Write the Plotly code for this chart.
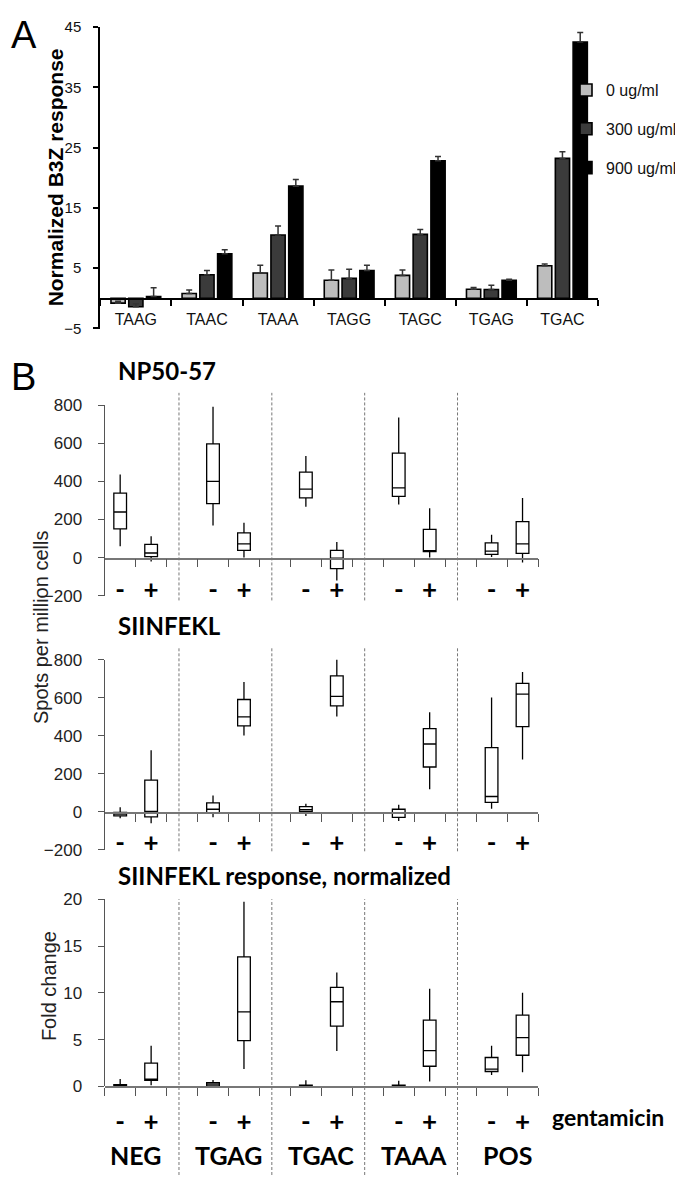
import plotly.graph_objects as go

# ---------------- Panel A data ----------------
codons = ["TAAG", "TAAC", "TAAA", "TAGG", "TAGC", "TGAG", "TGAC"]
dose_labels = ["0 ug/ml", "300 ug/ml", "900 ug/ml"]
resp_0 = [-0.8, 0.8, 4.2, 3.0, 3.8, 1.5, 5.4]
resp_300 = [-1.4, 3.9, 10.5, 3.3, 10.6, 1.45, 23.2]
resp_900 = [0.3, 7.4, 18.6, 4.6, 22.8, 3.0, 42.5]
err_0 = [0.3, 0.6, 1.3, 1.7, 0.9, 0.3, 0.3]
err_300 = [0.5, 0.7, 1.5, 1.5, 0.8, 0.7, 1.1]
err_900 = [1.45, 0.65, 1.1, 0.9, 0.7, 0.15, 1.6]
dose_colors = ["#bdbdbd", "#3b3b3b", "#000000"]
a_yticks = [-5, 5, 15, 25, 35, 45]

# ---------------- Panel B data ----------------
groups = ["NEG", "TGAG", "TGAC", "TAAA", "POS"]
treat = ["-", "+"]
b_titles = ["NP50-57", "SIINFEKL", "SIINFEKL response, normalized"]

# NP50-57 (spots per million cells), order: NEG-, NEG+, TGAG-, TGAG+, ...
np_q1 = [151, 5, 283, 38, 313, -58, 321, 31, 17, 22]
np_med = [239, 24, 400, 72, 359, -3, 366, 34, 34, 72]
np_q3 = [338, 69, 596, 129, 448, 38, 548, 148, 77, 189]
np_lo = [60, -21, 168, 0, 266, -120, 278, 0, 3, -26]
np_hi = [435, 112, 791, 182, 533, 81, 734, 258, 120, 313]

# SIINFEKL (spots per million cells)
si_q1 = [-21, -26, -7, 452, 3, 557, -29, 236, 50, 448]
si_med = [-12, 3, 14, 500, 12, 607, -7, 357, 81, 619]
si_q3 = [-3, 167, 48, 591, 28, 715, 14, 438, 338, 676]
si_lo = [-34, -59, -28, 402, -21, 502, -48, 119, 17, 276]
si_hi = [24, 324, 86, 683, 43, 831, 38, 524, 602, 736]

# SIINFEKL response, normalized (fold change)
fc_q1 = [0.05, 0.66, 0.07, 4.91, 0.05, 6.45, 0.05, 2.16, 1.6, 3.34]
fc_med = [0.1, 0.77, 0.24, 7.98, 0.1, 9.06, 0.1, 3.83, 1.85, 5.23]
fc_q3 = [0.2, 2.5, 0.42, 13.87, 0.15, 10.6, 0.15, 7.1, 3.1, 7.63]
fc_lo = [0.0, 0.14, 0.0, 1.88, 0.0, 3.8, 0.0, 0.52, 1.22, 1.53]
fc_hi = [0.8, 4.36, 0.7, 19.76, 0.66, 12.2, 0.6, 10.45, 4.36, 10.03]

W, H = 683, 1177
ARIAL = "Liberation Sans, Arial, sans-serif"
CAL = "Lato, Carlito, Calibri, sans-serif"


def px(p):
    return p / W


def py(p):
    return 1 - p / H


def ydom(top_px, bot_px):
    return [py(bot_px), py(top_px)]


def zero_dom(dom, rng):
    z = dom[0] + (0 - rng[0]) / (rng[1] - rng[0]) * (dom[1] - dom[0])
    return [z, dom[1]]


xA = [px(92.3), px(590)]
xB = [px(96.7), px(530)]
yA = ydom(10, 316.7)
yB1 = ydom(394.3, 588.3)
yB2 = ydom(653.2, 846.7)
yB3 = ydom(896.5, 1087)
rA = [-5.02, 45.02]
rB = [-200.5, 800.5]
rF = [0, 20.05]

fig = go.Figure()

# ---- Panel A bars ----
for name, vals, errs, col in zip(dose_labels, [resp_0, resp_300, resp_900],
                                 [err_0, err_300, err_900], dose_colors):
    fig.add_trace(go.Bar(
        x=list(range(len(codons))), y=vals, name=name, legendgroup=name,
        marker=dict(color=col, line=dict(color="black", width=1.6)),
        error_y=dict(type="data", symmetric=False, array=errs,
                     arrayminus=[0] * len(errs), color="#333333",
                     thickness=1.5, width=3),
        xaxis="x", yaxis="y"))

# ---- Panel B boxes ----
pos = [3 * g + t for g in range(len(groups)) for t in range(len(treat))]
labels = [treat[t] for g in range(len(groups)) for t in range(len(treat))]
for (q1, md, q3, lo, hi), ax in zip(
        [(np_q1, np_med, np_q3, np_lo, np_hi),
         (si_q1, si_med, si_q3, si_lo, si_hi),
         (fc_q1, fc_med, fc_q3, fc_lo, fc_hi)], ["2", "3", "4"]):
    fig.add_trace(go.Box(
        x=pos, q1=q1, median=md, q3=q3, lowerfence=lo, upperfence=hi,
        width=0.41, whiskerwidth=0, boxpoints=False,
        line=dict(color="black", width=1.3), fillcolor="rgba(255,255,255,0)",
        showlegend=False, hoverinfo="skip",
        xaxis="x" + ax, yaxis="y" + ax))

# dummy traces to create the zero-line subplots
for k in ["5", "6", "7", "8"]:
    fig.add_trace(go.Scatter(x=[None], y=[None], xaxis="x" + k, yaxis="y" + k,
                             showlegend=False, hoverinfo="skip"))

nB = len(groups) * 3 - 1
A_bounds = [i + 0.5 for i in range(-1, len(codons))]
B_bounds = [i + 0.5 for i in range(-1, nB)]

tickfontA = dict(family=ARIAL, size=15, color="#111")
tickfontB = dict(family=ARIAL, size=17, color="#222")

layout = dict(
    width=W, height=H, margin=dict(l=0, r=0, t=0, b=0),
    paper_bgcolor="white", plot_bgcolor="rgba(0,0,0,0)",
    barmode="group", bargap=0.25, bargroupgap=0.2,
    showlegend=True,
    legend=dict(x=px(558), y=py(57), xanchor="left", yanchor="top",
                font=dict(family=ARIAL, size=16, color="#111"),
                tracegroupgap=15, bgcolor="rgba(0,0,0,0)"),
    # Panel A
    xaxis=dict(domain=xA, anchor="y", range=[-0.5, len(codons) - 0.5],
               tickvals=list(range(len(codons))), ticktext=codons,
               ticks="", showline=False, showgrid=False, zeroline=False,
               ticklabelposition="outside", ticklabelstandoff=-21,
               tickfont=dict(family=ARIAL, size=16, color="#111")),
    yaxis=dict(domain=yA, anchor="x", range=rA, tickvals=a_yticks,
               ticks="outside", ticklen=5, tickwidth=1.5, tickcolor="black",
               showline=True, linecolor="black", linewidth=2,
               showgrid=False, zeroline=False, tickfont=tickfontA,
               ticklabelstandoff=9),
    xaxis5=dict(domain=xA, anchor="y5", range=[-0.5, len(codons) - 0.5],
                tickvals=A_bounds, ticks="outside", ticklen=6, tickwidth=1.5,
                tickcolor="black", showline=True, linecolor="black", linewidth=2,
                showticklabels=False, showgrid=False, zeroline=False),
    yaxis5=dict(domain=zero_dom(yA, rA), anchor="x5", visible=False, range=[0, 1]),
)

for ax, zax, dom, rng, tv, so in [("2", "6", yB1, rB, [-200, 0, 200, 400, 600, 800], -24),
                                  ("3", "7", yB2, rB, [-200, 0, 200, 400, 600, 800], -25),
                                  ("4", "8", yB3, rF, [0, 5, 10, 15, 20], 18)]:
    layout["xaxis" + ax] = dict(
        domain=xB, anchor="y" + ax, range=[-0.5, nB - 0.5],
        tickvals=pos, ticktext=labels, ticks="", showline=False,
        showgrid=False, zeroline=False,
        ticklabelposition="outside", ticklabelstandoff=so,
        tickfont=dict(family=CAL, size=26, color="black", weight="bold"))
    layout["yaxis" + ax] = dict(
        domain=dom, anchor="x" + ax, range=rng, tickvals=tv,
        ticks="outside", ticklen=6, tickwidth=1.2, tickcolor="#555",
        showline=True, linecolor="#555", linewidth=1.3,
        showgrid=False, zeroline=False, tickfont=tickfontB,
        ticklabelstandoff=12)
    layout["xaxis" + zax] = dict(
        domain=xB, anchor="y" + zax, range=[-0.5, nB - 0.5],
        tickvals=B_bounds, ticks="outside", ticklen=8, tickwidth=1.2,
        tickcolor="#555", showline=True, linecolor="#777", linewidth=1.5,
        showticklabels=False, showgrid=False, zeroline=False)
    layout["yaxis" + zax] = dict(domain=zero_dom(dom, rng), anchor="x" + zax,
                                 visible=False, range=[0, 1])

fig.update_layout(**layout)

# ---- dashed group separators ----
sep_spans = {"2": (382, 593), "3": (640, 848), "4": (896.7, 1177)}
for ax, (t, b) in sep_spans.items():
    for g in range(1, len(groups)):
        xs = 3 * g - 1 - 0.1
        fig.add_shape(type="line", xref="x" + ax, yref="paper", x0=xs, x1=xs,
                      y0=py(b), y1=py(t),
                      line=dict(color="#777", width=1, dash="3px,2px"))

ann = []
ann.append(dict(text="A", x=px(1), y=py(18), xref="paper", yref="paper",
                xanchor="left", yanchor="middle", showarrow=False,
                font=dict(family=ARIAL, size=38, color="black")))
ann.append(dict(text="B", x=px(1), y=py(366), xref="paper", yref="paper",
                xanchor="left", yanchor="middle", showarrow=False,
                font=dict(family=ARIAL, size=38, color="black")))
for t, ypx in zip(b_titles, [359, 618, 872.7]):
    ann.append(dict(text="<b>%s</b>" % t, x=px(108), y=py(ypx),
                    xref="paper", yref="paper", xanchor="left", yanchor="middle",
                    showarrow=False, font=dict(family=CAL, size=24, color="black")))
ann.append(dict(text="<b>Normalized B3Z response</b>", x=px(47), y=py(163),
                xref="paper", yref="paper", textangle=-90, showarrow=False,
                xanchor="center", yanchor="middle",
                font=dict(family=ARIAL, size=21, color="black")))
ann.append(dict(text="Spots per million cells", x=px(33), y=py(621),
                xref="paper", yref="paper", textangle=-90, showarrow=False,
                xanchor="center", yanchor="middle",
                font=dict(family=ARIAL, size=20, color="#222")))
ann.append(dict(text="Fold change", x=px(41), y=py(985),
                xref="paper", yref="paper", textangle=-90, showarrow=False,
                xanchor="center", yanchor="middle",
                font=dict(family=ARIAL, size=20, color="#222")))
ann.append(dict(text="<b>gentamicin</b>", x=px(542), y=py(1118),
                xref="paper", yref="paper", xanchor="left", yanchor="middle",
                showarrow=False, font=dict(family=CAL, size=23, color="black")))
for g, name in enumerate(groups):
    ann.append(dict(text="<b>%s</b>" % name, x=3 * g + 0.5, y=py(1157),
                    xref="x4", yref="paper", xanchor="center", yanchor="middle",
                    showarrow=False, font=dict(family=CAL, size=25, color="black")))
fig.update_layout(annotations=ann)

fig.write_html("out.html")
